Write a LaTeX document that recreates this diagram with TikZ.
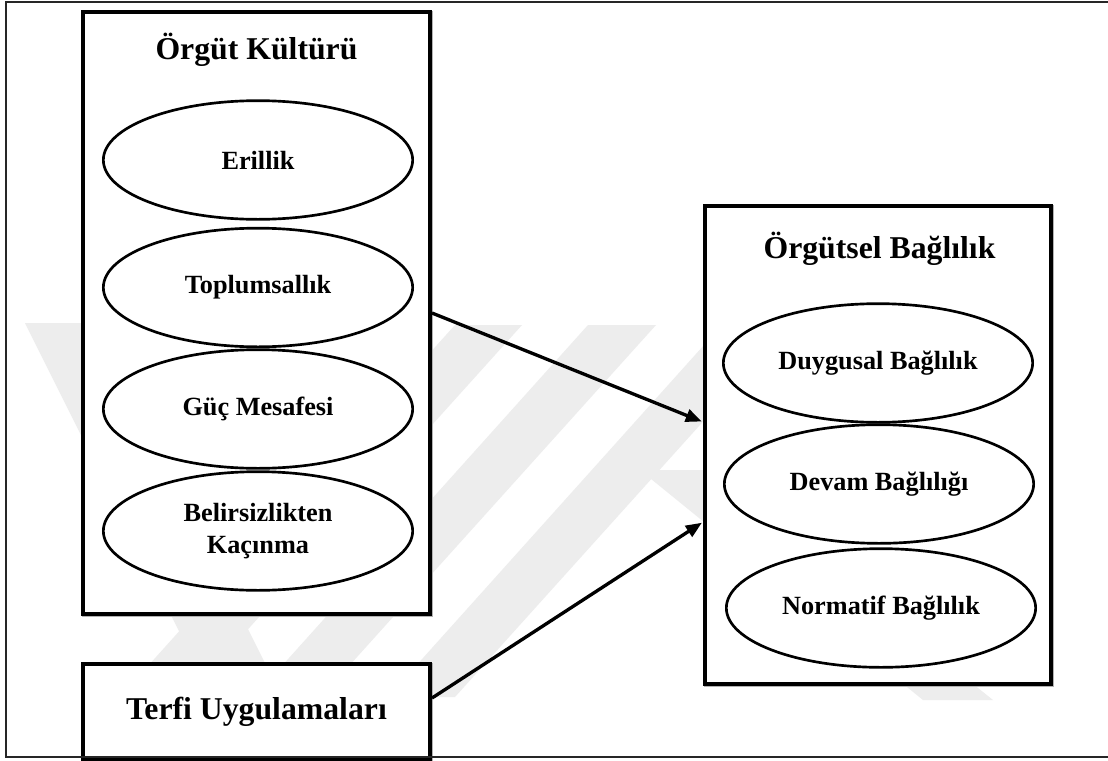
\documentclass[tikz,border=0pt]{standalone}
\usepackage{fontspec}
\setmainfont{Liberation Serif}
\usetikzlibrary{arrows.meta,shapes.geometric,shadows}
\begin{document}
\begin{tikzpicture}[x=0.75pt,y=-0.75pt,
  box/.style={draw=black, line width=3pt, fill=white, rectangle, inner sep=0pt,
    drop shadow={shadow xshift=1pt, shadow yshift=-1pt, fill=gray!60, draw=gray!60, line width=3pt, opacity=1}},
  oval/.style={draw=black, line width=2pt, ellipse, fill=white, minimum width=232pt, minimum height=89pt, inner sep=0pt, font=\fontsize{19.7}{24}\selectfont\bfseries, align=center},
  ttl/.style={font=\fontsize{23.8}{28}\selectfont\bfseries, anchor=base, inner sep=0pt},
  conn/.style={line width=2.5pt, -{Triangle[length=12pt,width=9.5pt]}, shorten >=1pt},
  frame/.style={line width=1.3pt, draw=black!85},
  wmark/.style={fill=black!7, draw=none}
]
\useasboundingbox (0,0) rectangle (1108,761);
\fill[white] (0,0) rectangle (1108,761);

% faint watermark
\fill[wmark] (25,323) -- (95,323) -- (282,697) -- (212,697) -- cycle;
\fill[wmark] (455,325) -- (522,325) -- (187,697) -- (120,697) -- cycle;
\fill[wmark] (588,325) -- (656,325) -- (321,697) -- (254,697) -- cycle;
\fill[wmark] (722,325) -- (790,325) -- (455,697) -- (388,697) -- cycle;
\fill[wmark] (640,470) -- (705,470) -- (993,700) -- (923,700) -- cycle;

% boxes
\node[box, minimum width=260.25pt, minimum height=451.5pt] (lbox) at (256.5,313) {};
\node[box, minimum width=259.5pt, minimum height=358.5pt] (rbox) at (878,445) {};
\node[box, minimum width=260.25pt, minimum height=71.25pt] (tbox) at (256.5,711.5) {};

% titles
\node[ttl] (lttl) at (256.5,59) {Örgüt Kültürü};
\node[ttl] (rttl) at (879.5,258) {Örgütsel Bağlılık};
\node[ttl] (tttl) at (256.5,719) {Terfi Uygulamaları};

% left ellipses
\node[oval] (e1) at (258,160) {Erillik};
\node[oval] (e2) at (258,287.5) {Toplumsallık};
\node[oval] (e3) at (258,409) {Güç Mesafesi};
\node[oval] (e4) at (258,531) {Belirsizlikten\\Kaçınma};

% right ellipses
\node[oval] (r1) at (878,363) {Duygusal Bağlılık};
\node[oval] (r2) at (879,484) {Devam Bağlılığı};
\node[oval] (r3) at (881,608) {Normatif Bağlılık};

% connectors
\draw[conn] (lbox.east) -- ([yshift=17.25pt]rbox.west);
\draw[conn] ([yshift=10.1pt]tbox.east) -- ([yshift=-57.75pt]rbox.west);

% outer frame
\draw[frame] (1108,2) -- (6,2) -- (6,757) -- (1108,757);
\end{tikzpicture}
\end{document}
